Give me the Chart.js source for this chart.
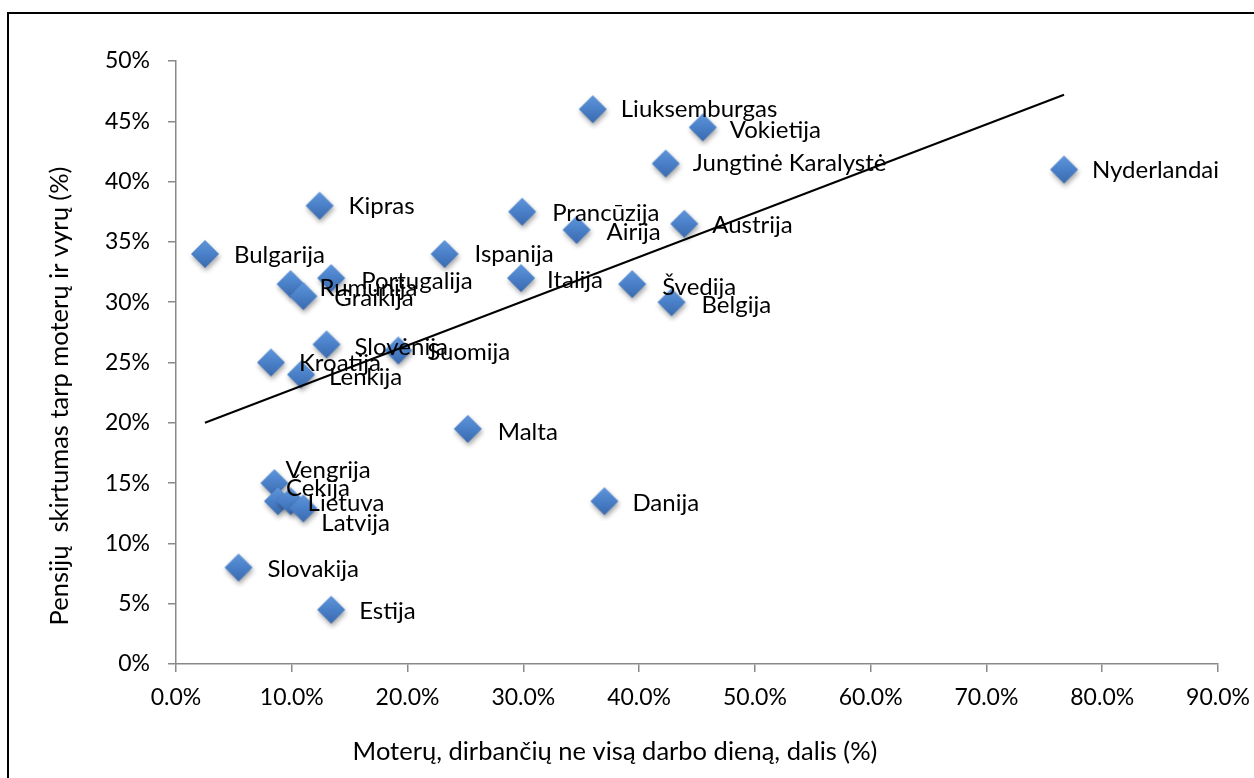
<!DOCTYPE html>
<html lang="lt">
<head>
<meta charset="utf-8">
<title>Pensijų skirtumas ir ne visos darbo dienos darbas</title>
<script src="https://cdn.jsdelivr.net/npm/chart.js@4.4.1/dist/chart.umd.min.js"></script>
<style>
  html, body { margin: 0; padding: 0; background: #fff; }
  #wrap { width: 1254px; height: 778px; }
</style>
</head>
<body>
<div id="wrap"><canvas id="chart" width="1254" height="778"></canvas></div>
<script>
// ES šalys: moterų ne visos darbo dienos dalis ir pensijų skirtumas
const countries = [
  'Liuksemburgas', 'Vokietija', 'Jungtinė Karalystė', 'Nyderlandai', 'Kipras',
  'Prancūzija', 'Airija', 'Austrija', 'Bulgarija', 'Ispanija', 'Italija',
  'Švedija', 'Belgija', 'Portugalija', 'Rumunija', 'Graikija', 'Slovėnija',
  'Suomija', 'Kroatija', 'Lenkija', 'Malta', 'Danija', 'Vengrija', 'Čekija',
  'Lietuva', 'Latvija', 'Slovakija', 'Estija'
];
const partTimeShare = [
  36.0, 45.5, 42.3, 76.7, 12.4,
  29.9, 34.6, 43.9, 2.5, 23.2, 29.8,
  39.4, 42.8, 13.4, 9.9, 11.0, 13.0,
  19.2, 8.2, 10.8, 25.2, 37.0, 8.5, 8.8,
  9.9, 11.0, 5.4, 13.4
];
const pensionGap = [
  46.0, 44.5, 41.5, 41.0, 38.0,
  37.5, 36.0, 36.5, 34.0, 34.0, 32.0,
  31.5, 30.0, 32.0, 31.5, 30.5, 26.5,
  26.0, 25.0, 24.0, 19.5, 13.5, 15.0, 13.5,
  13.5, 12.9, 8.0, 4.5
];

// linijinė tendencija (galiniai taškai)
const trendX = [2.5, 76.7];
const trendY = [20.0, 47.2];

const xTicks = [0, 10, 20, 30, 40, 50, 60, 70, 80, 90];
const yTicks = [0, 5, 10, 15, 20, 25, 30, 35, 40, 45, 50];

const xTitle = 'Moterų, dirbančių ne visą darbo dieną, dalis (%)';
const yTitle = 'Pensijų  skirtumas tarp moterų ir vyrų (%)';

// label nudges in px [dx, dy], same order as countries
const labelNudge = [
  [28, 0], [27, 3], [27, 0], [28, 1], [29, 1],
  [30, 2], [30, 2], [28, 1], [29, 1], [30, 0], [26, 2],
  [30, 3], [30, 3], [30, 3], [29, 4], [31, 2], [28, 3],
  [29, 2], [28, 1], [28, 3], [30, 3], [28, 2], [11, -13], [8, -13],
  [17, 2], [18, 15], [29, 2], [28, 2]
];

const FONT = 'Lato, "Open Sans", sans-serif';
const TICK_SIZE = 23;
const NAME_SIZE = 24;
const TITLE_SIZE = 25.5;

// diamond marker with a soft gradient and drop shadow
function makeDiamond() {
  const c = document.createElement('canvas');
  c.width = 40;
  c.height = 40;
  const g = c.getContext('2d');
  const r = 14;
  g.shadowColor = 'rgba(0,0,0,0.35)';
  g.shadowBlur = 5;
  g.shadowOffsetX = 1;
  g.shadowOffsetY = 3;
  const grad = g.createLinearGradient(0, 20 - r, 0, 20 + r);
  grad.addColorStop(0, '#5f95da');
  grad.addColorStop(0.5, '#4a80c8');
  grad.addColorStop(1, '#3a6aae');
  g.fillStyle = grad;
  g.beginPath();
  g.moveTo(20, 20 - r);
  g.lineTo(20 + r, 20);
  g.lineTo(20, 20 + r);
  g.lineTo(20 - r, 20);
  g.closePath();
  g.fill();
  return c;
}

const points = partTimeShare.map((x, i) => ({ x: x, y: pensionGap[i] }));
const trendPoints = trendX.map((x, i) => ({ x: x, y: trendY[i] }));

// frame around the chart plus both axis titles
const framePlugin = {
  id: 'frame',
  beforeDraw(chart) {
    const ctx = chart.ctx;
    ctx.save();
    ctx.fillStyle = '#fff';
    ctx.fillRect(0, 0, chart.width, chart.height);
    ctx.strokeStyle = '#000';
    ctx.lineWidth = 2;
    ctx.strokeRect(8, 13, chart.width + 20, chart.height + 20);
    ctx.restore();
  },
  afterDraw(chart) {
    const ctx = chart.ctx;
    ctx.save();
    ctx.fillStyle = '#000';
    ctx.font = TITLE_SIZE + 'px ' + FONT;
    ctx.textAlign = 'center';
    ctx.textBaseline = 'middle';
    ctx.fillText(xTitle, 615, 752);
    ctx.translate(60, 396);
    ctx.rotate(-Math.PI / 2);
    ctx.fillText(yTitle, 0, 0);
    ctx.restore();
  }
};

// country names next to their markers
const namePlugin = {
  id: 'names',
  afterDatasetsDraw(chart) {
    const meta = chart.getDatasetMeta(0);
    const ctx = chart.ctx;
    ctx.save();
    ctx.fillStyle = '#000';
    ctx.font = NAME_SIZE + 'px ' + FONT;
    ctx.textAlign = 'left';
    ctx.textBaseline = 'middle';
    meta.data.forEach((pt, i) => {
      const n = labelNudge[i];
      ctx.fillText(countries[i], pt.x + n[0], pt.y + n[1]);
    });
    ctx.restore();
  }
};

const axisColor = '#898989';

new Chart(document.getElementById('chart'), {
  type: 'scatter',
  data: {
    datasets: [{
      label: 'Šalys',
      data: points,
      pointStyle: makeDiamond(),
      pointRadius: 14,
      pointHoverRadius: 14,
      order: 2
    }, {
      type: 'line',
      label: 'Tendencija',
      data: trendPoints,
      borderColor: '#000',
      borderWidth: 2,
      pointRadius: 0,
      fill: false,
      order: 1
    }]
  },
  plugins: [framePlugin, namePlugin],
  options: {
    responsive: false,
    animation: false,
    layout: { padding: { top: 61, right: 36, left: 0, bottom: 0 } },
    plugins: {
      legend: { display: false },
      tooltip: { enabled: false }
    },
    scales: {
      x: {
        type: 'linear',
        min: 0,
        max: 90,
        afterBuildTicks(scale) { scale.ticks = xTicks.map(v => ({ value: v })); },
        afterFit(scale) {
          scale.height = 114;
          scale.paddingLeft = 0;
          scale.paddingRight = 0;
        },
        border: { display: true, color: axisColor, width: 1.5 },
        grid: { drawOnChartArea: false, drawTicks: true, tickLength: 8, color: axisColor, lineWidth: 1.5 },
        ticks: {
          color: '#000',
          padding: 12,
          maxRotation: 0,
          font: { family: FONT, size: TICK_SIZE },
          callback: v => v.toFixed(1) + '%'
        }
      },
      y: {
        type: 'linear',
        min: 0,
        max: 50,
        afterBuildTicks(scale) { scale.ticks = yTicks.map(v => ({ value: v })); },
        afterFit(scale) {
          scale.width = 176;
          scale.paddingTop = 0;
          scale.paddingBottom = 0;
        },
        border: { display: true, color: axisColor, width: 1.5 },
        grid: { drawOnChartArea: false, drawTicks: true, tickLength: 8, color: axisColor, lineWidth: 1.5 },
        ticks: {
          color: '#000',
          padding: 18,
          font: { family: FONT, size: TICK_SIZE },
          callback: v => v + '%'
        }
      }
    }
  }
});
</script>
</body>
</html>
